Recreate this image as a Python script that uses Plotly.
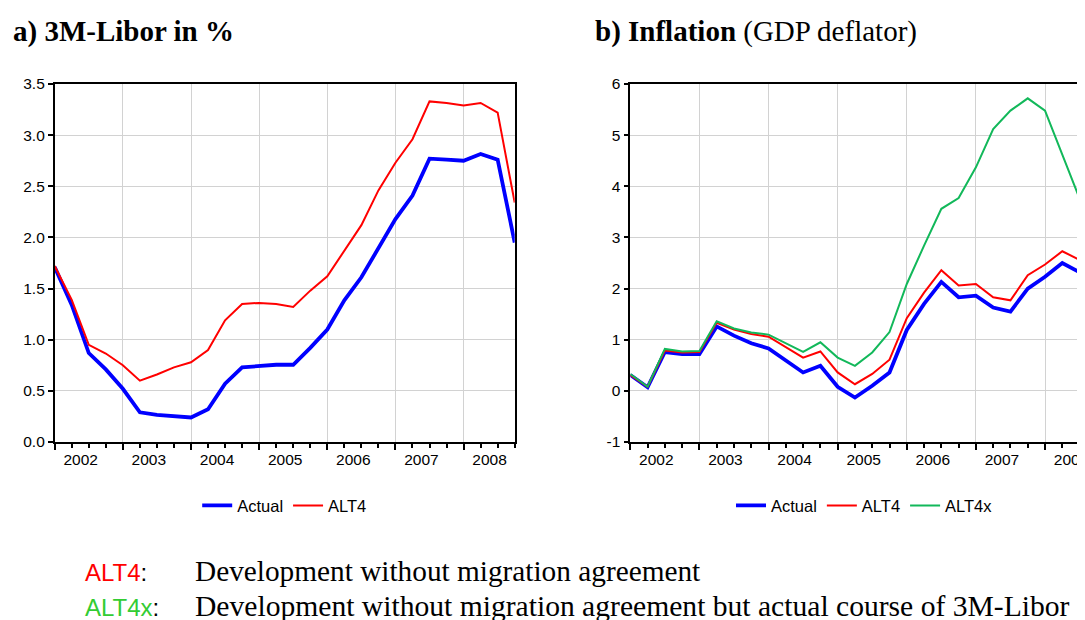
import plotly.graph_objects as go

# ---------------- data ----------------
quarters = [f"{y}Q{q}" for y in range(2002, 2009) for q in range(1, 5)]
year_labels = ["2002", "2003", "2004", "2005", "2006", "2007", "2008"]
year_start_idx = [0, 4, 8, 12, 16, 20, 24]

libor_actual = [1.71, 1.34, 0.87, 0.71, 0.52, 0.29, 0.265, 0.25, 0.24, 0.32, 0.57, 0.73,
                0.745, 0.755, 0.755, 0.92, 1.10, 1.385, 1.61, 1.90, 2.18, 2.41, 2.77, 2.76,
                2.75, 2.815, 2.76, 1.95]
libor_alt4 = [1.72, 1.39, 0.95, 0.865, 0.75, 0.60, 0.66, 0.73, 0.78, 0.90, 1.19, 1.35,
              1.36, 1.35, 1.32, 1.48, 1.62, 1.875, 2.12, 2.46, 2.73, 2.96, 3.33, 3.315,
              3.29, 3.315, 3.22, 2.34]

infl_actual = [0.31, 0.07, 0.76, 0.72, 0.72, 1.26, 1.08, 0.93, 0.83, 0.60, 0.36, 0.49,
               0.08, -0.13, 0.10, 0.36, 1.19, 1.70, 2.13, 1.83, 1.86, 1.63, 1.55, 2.00,
               2.23, 2.50, 2.32, 1.90]
infl_alt4 = [0.31, 0.08, 0.79, 0.75, 0.76, 1.33, 1.20, 1.11, 1.06, 0.86, 0.65, 0.77,
             0.36, 0.13, 0.33, 0.61, 1.42, 1.92, 2.36, 2.06, 2.09, 1.83, 1.77, 2.26,
             2.47, 2.73, 2.56, 2.20]
infl_alt4x = [0.33, 0.08, 0.82, 0.77, 0.78, 1.36, 1.22, 1.14, 1.10, 0.93, 0.76, 0.95,
              0.65, 0.49, 0.75, 1.15, 2.09, 2.84, 3.56, 3.77, 4.37, 5.12, 5.48, 5.72,
              5.48, 4.62, 3.75, 2.90]

libor_ticks = [0.0, 0.5, 1.0, 1.5, 2.0, 2.5, 3.0, 3.5]
libor_ticktext = ["0.0", "0.5", "1.0", "1.5", "2.0", "2.5", "3.0", "3.5"]
infl_ticks = [-1, 0, 1, 2, 3, 4, 5, 6]
infl_ticktext = ["-1", "0", "1", "2", "3", "4", "5", "6"]

# ---------------- geometry (page pixels; page body has an 8px margin) ----------------
OFF = 8
W, H = 1085 - OFF, 620 - OFF
def fx(px):
    return (px - OFF) / W
def fy(py):
    return 1 - (py - OFF) / H

BLUE, RED, GREEN = "#0000FF", "#FF0000", "#12B85A"
GRID = "#D2D2D2"
SANS = "Liberation Sans, Arial, sans-serif"
SERIF = "Liberation Serif, Times New Roman, serif"

x_idx = list(range(len(quarters)))

fig = go.Figure()
fig.add_trace(go.Scatter(x=x_idx, y=libor_actual, name="Actual", mode="lines",
                         line=dict(color=BLUE, width=3.8), xaxis="x", yaxis="y",
                         legend="legend", text=quarters))
fig.add_trace(go.Scatter(x=x_idx, y=libor_alt4, name="ALT4", mode="lines",
                         line=dict(color=RED, width=2), xaxis="x", yaxis="y",
                         legend="legend", text=quarters))
fig.add_trace(go.Scatter(x=x_idx, y=infl_actual, name="Actual", mode="lines",
                         line=dict(color=BLUE, width=3.8), xaxis="x2", yaxis="y2",
                         legend="legend2", text=quarters))
fig.add_trace(go.Scatter(x=x_idx, y=infl_alt4, name="ALT4", mode="lines",
                         line=dict(color=RED, width=2), xaxis="x2", yaxis="y2",
                         legend="legend2", text=quarters))
fig.add_trace(go.Scatter(x=x_idx, y=infl_alt4x, name="ALT4x", mode="lines",
                         line=dict(color=GREEN, width=2), xaxis="x2", yaxis="y2",
                         legend="legend2", text=quarters))

q_left = (514.7 - 54.7) / 27
q_right = 17.28
right_end = (1085 - 630.3) / q_right

def xaxis_common(domain, rng, q):
    return dict(
        domain=domain, range=rng,
        tickmode="array", tickvals=year_start_idx, ticktext=year_labels,
        ticks="outside", ticklen=6, tickwidth=1.5, tickcolor="black",
        ticklabelshift=int(round(1.5 * q)), ticklabeloverflow="allow",
        ticklabelstandoff=-3,
        showgrid=True, gridcolor=GRID, gridwidth=1,
        showline=True, linecolor="black", linewidth=1.6, mirror=True,
        zeroline=False, automargin=False,
        tickfont=dict(family=SANS, size=15.5, color="black"),
        minor=dict(tickmode="array", tickvals=x_idx, ticks="outside", ticklen=4,
                   tickwidth=1.5, tickcolor="black", showgrid=False),
    )

def yaxis_common(domain, rng, ticks, ticktext, mirror):
    return dict(
        domain=domain, range=rng,
        tickmode="array", tickvals=ticks, ticktext=ticktext,
        ticks="outside", ticklen=5, tickwidth=1.5, tickcolor="black",
        showgrid=True, gridcolor=GRID, gridwidth=1,
        showline=True, linecolor="black", linewidth=1.6, mirror=mirror,
        zeroline=False, automargin=False,
        tickfont=dict(family=SANS, size=15.5, color="black"),
    )

ydom = [fy(442), fy(84)]
fig.update_layout(
    width=W, height=H,
    margin=dict(l=0, r=0, t=0, b=0),
    paper_bgcolor="white", plot_bgcolor="white",
    font=dict(family=SANS, size=15.5, color="black"),
    xaxis=xaxis_common([fx(54.7), fx(514.7)], [0, 27], q_left),
    yaxis=dict(yaxis_common(ydom, [0, 3.5], libor_ticks, libor_ticktext, True), anchor="x"),
    xaxis2=dict(xaxis_common([fx(630.3), 1.0], [0, right_end], q_right), anchor="y2"),
    yaxis2=dict(yaxis_common(ydom, [-1, 6], infl_ticks, infl_ticktext, False), anchor="x2"),
    legend=dict(orientation="h", x=fx(284.7), xanchor="center", y=fy(505.7), yanchor="middle",
                bgcolor="rgba(0,0,0,0)", font=dict(family=SANS, size=16.5)),
    legend2=dict(orientation="h", x=fx(864.5), xanchor="center", y=fy(505.7), yanchor="middle",
                 bgcolor="rgba(0,0,0,0)", font=dict(family=SANS, size=16.5)),
    showlegend=True,
)

annots = [
    dict(text="<b>a) 3M-Libor in %</b>", x=fx(11.7), y=fy(31.2), xanchor="left",
         font=dict(family=SERIF, size=29, color="black")),
    dict(text="<b>b) Inflation</b> (GDP deflator)", x=fx(593.8), y=fy(31.2), xanchor="left",
         font=dict(family=SERIF, size=29, color="black")),
    dict(text="<span style='color:#FF0000'>ALT4</span>:", x=fx(84), y=fy(572.2), xanchor="left",
         font=dict(family=SANS, size=24, color="black")),
    dict(text="Development without migration agreement", x=fx(193.8), y=fy(570.7), xanchor="left",
         font=dict(family=SERIF, size=29.3, color="black")),
    dict(text="<span style='color:#33CC33'>ALT4x</span>:", x=fx(84), y=fy(607.2), xanchor="left",
         font=dict(family=SANS, size=24, color="black")),
    dict(text="Development without migration agreement but actual course of 3M-Libor",
         x=fx(193.8), y=fy(605.7), xanchor="left",
         font=dict(family=SERIF, size=29.6, color="black")),
]
for a in annots:
    a.update(xref="paper", yref="paper", yanchor="middle", showarrow=False, borderpad=0)
fig.update_layout(annotations=annots)

fig.write_html("out.html")
